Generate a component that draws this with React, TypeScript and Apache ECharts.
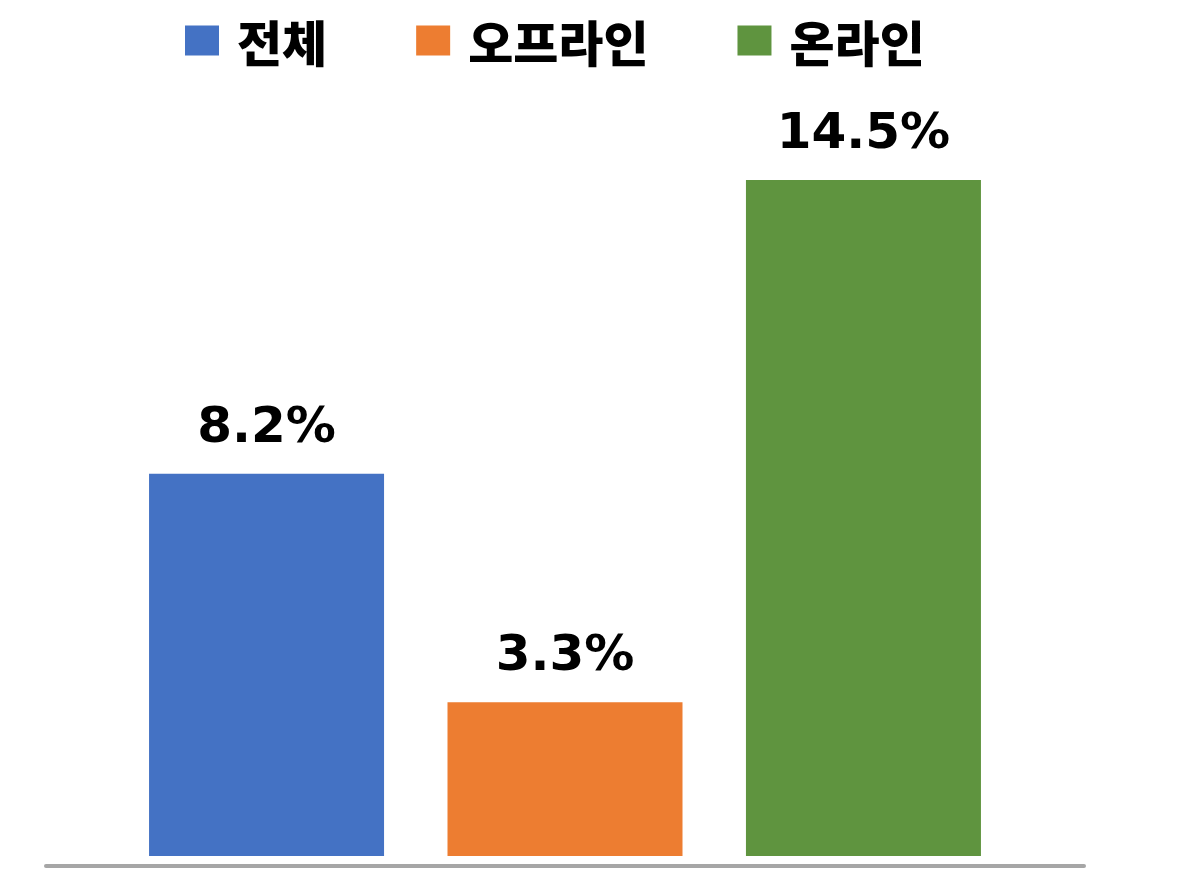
import { FC, useEffect, useRef } from 'react';
import * as echarts from 'echarts';

// 시리즈 이름, 값, 색상
const seriesNames = ['전체', '오프라인', '온라인'];
const seriesValues = [8.2, 3.3, 14.5];
const seriesColors = ['#4472C4', '#ED7D31', '#5F943F'];
const categories = [''];

const App: FC = () => {
  const chartDom = useRef<HTMLDivElement>(null);

  useEffect(() => {
    const chart = echarts.init(chartDom.current, null, { renderer: 'svg' });

    const option = {
      animation: false,
      legend: {
        top: 11,
        left: 180,
        itemWidth: 34,
        itemHeight: 30,
        itemGap: 89,
        icon: 'rect',
        textStyle: {
          fontFamily: 'Noto Sans CJK KR',
          fontWeight: 900,
          fontSize: 49,
          color: '#000',
          padding: [0, 0, 0, 13],
        },
        data: seriesNames,
      },
      grid: { left: 46, right: 108, top: 110, bottom: 15 },
      xAxis: {
        type: 'category',
        data: categories,
        offset: 10,
        axisLine: { show: true, onZero: false, lineStyle: { color: '#a6a6a6', width: 4 } },
        axisTick: { show: false },
        axisLabel: { show: false },
      },
      yAxis: {
        type: 'value',
        min: 0,
        max: 16,
        show: false,
        splitLine: { show: false },
      },
      series: seriesNames.map((name, i) => ({
        name,
        type: 'bar',
        barWidth: 235,
        barGap: '27%',
        itemStyle: { color: seriesColors[i] },
        label: {
          show: true,
          position: 'top',
          distance: 24,
          formatter: (p: any) => `${p.value}%`,
          fontFamily: 'DejaVu Sans',
          fontWeight: 'bold',
          fontSize: 50,
          color: '#000',
        },
        data: [seriesValues[i]],
      })),
    };

    chart.setOption(option);
    return () => {
      chart.dispose();
    };
  }, []);

  return (
    <div
      ref={chartDom}
      style={{ position: 'fixed', left: 0, top: 0, width: 1192, height: 871, background: '#fff' }}
    />
  );
};

export default App;
